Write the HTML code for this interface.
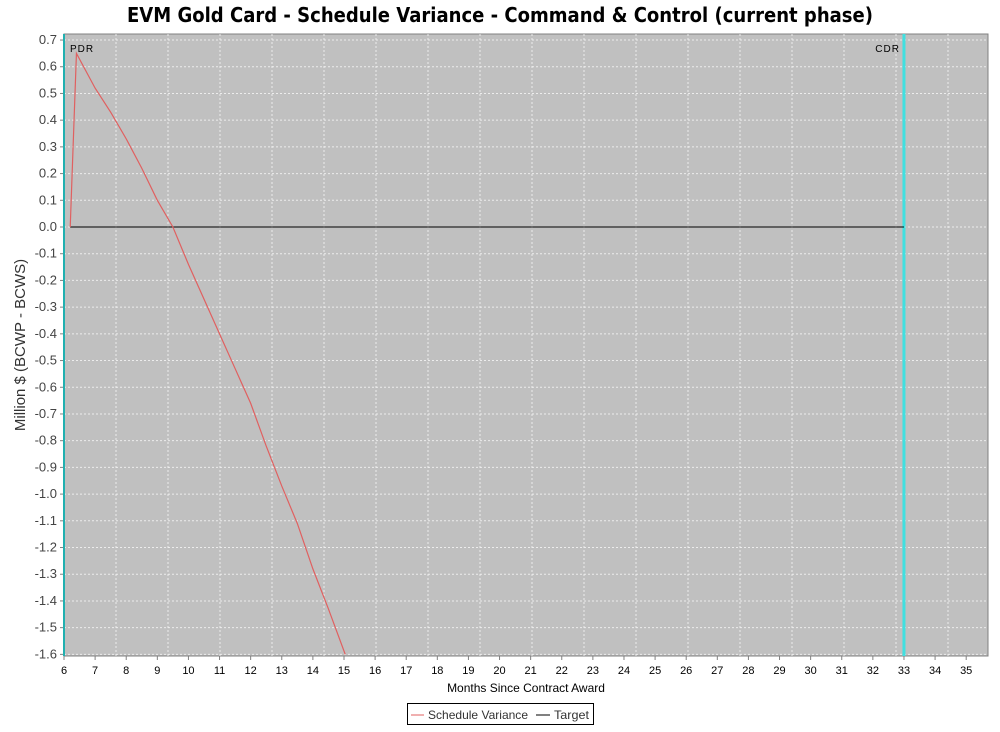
<!DOCTYPE html>
<html><head><meta charset="utf-8">
<style>
body{margin:0;background:#fff;width:1000px;height:727px;overflow:hidden;font-family:"Liberation Sans",sans-serif;}
</style></head>
<body>
<svg id="chart" width="1000" height="727" xmlns="http://www.w3.org/2000/svg">
<text x="127" y="22" textLength="746" lengthAdjust="spacingAndGlyphs" font-family="'DejaVu Sans',sans-serif" font-weight="bold" font-size="20" fill="#000">EVM Gold Card - Schedule Variance - Command &amp; Control (current phase)</text>
<rect x="64" y="34" width="924" height="622" fill="#c0c0c0" stroke="#808080"/>
<g id="grid"></g>
<g id="yaxis"></g>
<g id="xaxis"></g>
<g id="marks"></g>
<text x="526" y="692" text-anchor="middle" font-size="12" fill="#000">Months Since Contract Award</text>
<text transform="translate(25,345) rotate(-90)" text-anchor="middle" font-size="15" fill="#333">Million $ (BCWP - BCWS)</text>
<g>
<rect x="407.5" y="703.5" width="186" height="21" fill="#fff" stroke="#000"/>
<line x1="411" y1="715" x2="424" y2="715" stroke="#e06060"/>
<text x="428" y="719" font-size="12" textLength="100" lengthAdjust="spacingAndGlyphs" fill="#333">Schedule Variance</text>
<line x1="536" y1="715" x2="550" y2="715" stroke="#000"/>
<text x="554" y="719" font-size="12" textLength="35" lengthAdjust="spacingAndGlyphs" fill="#333">Target</text>
</g>
</svg>
<script>
const months=[6.2,6.4,7,7.5,8,8.5,9,9.5,10,10.5,11,11.5,12,12.5,13,13.5,14,14.5,15.04];
const variance=[0,0.65,0.52,0.43,0.33,0.22,0.10,0.0,-0.14,-0.27,-0.40,-0.53,-0.66,-0.82,-0.97,-1.11,-1.28,-1.43,-1.6];
const targetMonths=[6.2,33];
const targetValues=[0,0];
const yTicks=[0.7,0.6,0.5,0.4,0.3,0.2,0.1,0.0,-0.1,-0.2,-0.3,-0.4,-0.5,-0.6,-0.7,-0.8,-0.9,-1.0,-1.1,-1.2,-1.3,-1.4,-1.5,-1.6];
const xTicks=[6,7,8,9,10,11,12,13,14,15,16,17,18,19,20,21,22,23,24,25,26,27,28,29,30,31,32,33,34,35];
const milestoneNames=["PDR","CDR"];
const milestoneMonths=[6,33];

const X=m=>64+(m-6)*31.11;
const Y=v=>227-v*267.1;
const NS="http://www.w3.org/2000/svg";
function mk(tag,attrs,parent){const e=document.createElementNS(NS,tag);for(const k in attrs)e.setAttribute(k,attrs[k]);parent.appendChild(e);return e;}
const grid=document.getElementById('grid'),ya=document.getElementById('yaxis'),xa=document.getElementById('xaxis'),marks=document.getElementById('marks');
yTicks.forEach(v=>{
  const y=Y(v);
  const g=mk('line',{x1:64,x2:988,y1:y,y2:y,stroke:'#f4f4f4','stroke-dasharray':'2,2','stroke-width':1,opacity:0.85},grid);
  
  
  mk('line',{x1:60,x2:64,y1:y,y2:y,stroke:'#808080'},ya);
  const t=mk('text',{x:57,y:y+4,'text-anchor':'end','font-size':13,fill:'#444'},ya);
  t.textContent=v.toFixed(1);
  
  
});
for(let gx=116;gx<988;gx+=52){
  const g=mk('line',{x1:gx,x2:gx,y1:34,y2:656,stroke:'#f4f4f4','stroke-dasharray':'2,2',opacity:0.85},grid);
  
  
}
xTicks.forEach(m=>{
  const x=X(m);
  mk('line',{x1:x,x2:x,y1:656,y2:660,stroke:'#808080'},xa);
  const t=mk('text',{x:x,y:674,'text-anchor':'middle','font-size':11,fill:'#000'},xa);
  t.textContent=m;
  
  
});
milestoneMonths.forEach((m,i)=>{
  const x=X(m);
  const l=mk('line',{x1:x,x2:x,y1:34,y2:656,stroke:i==0?'#20b0b0':'#40e0e0','stroke-width':i==0?2:3},marks);
  
  
  const t=mk('text',{x:i==0?x+6:x-4,y:52,'text-anchor':i==0?'start':'end','font-size':10,fill:'#000','letter-spacing':'1'},marks);
  t.textContent=milestoneNames[i];
  
  
});
const tl=mk('polyline',{points:targetMonths.map((m,i)=>X(m)+','+Y(targetValues[i])).join(' '),fill:'none',stroke:'#000','stroke-width':1},marks);


const sv=mk('polyline',{points:months.map((m,i)=>X(m)+','+Y(variance[i])).join(' '),fill:'none',stroke:'#e06060','stroke-width':1.2},marks);


</script>
</body></html>
